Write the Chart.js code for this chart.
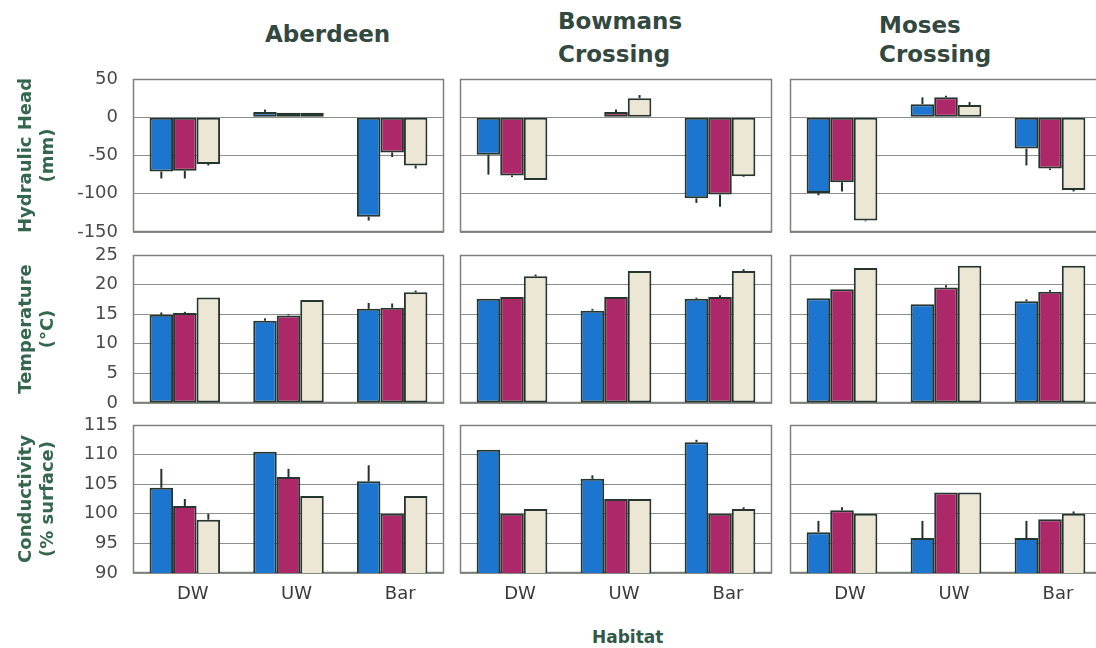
<!DOCTYPE html>
<html>
<head>
<meta charset="utf-8">
<title>Hydraulic head, temperature and conductivity by habitat</title>
<script src="https://cdn.jsdelivr.net/npm/chart.js@4.4.1/dist/chart.umd.min.js"></script>
<style>
  html, body { margin: 0; padding: 0; background: #fff; }
  body { width: 1096px; height: 648px; overflow: hidden; position: relative; font-family: "DejaVu Sans", sans-serif; }
  .panel { position: absolute; }
  .site { position: absolute; font-weight: bold; font-size: 23px; color: #33483f; white-space: nowrap; }
  .xtitle { position: absolute; font-weight: bold; font-size: 17px; line-height: 20px; color: #2f5a47; }
</style>
</head>
<body>
<div class="site" style="left:265px; top:20px; line-height:28px;">Aberdeen</div>
<div class="site" style="left:558px; top:5px; line-height:33px;">Bowmans<br>Crossing</div>
<div class="site" style="left:879px; top:11px; line-height:29px;">Moses<br>Crossing</div>
<div class="xtitle" style="left:592px; top:627px;">Habitat</div>

<script>
// Habitats on the x axis and the three sampling series
const habitats = ['DW', 'UW', 'Bar'];
const seriesNames = ['Series 1', 'Series 2', 'Series 3'];
const seriesColors = ['#1c76cf', '#ad2869', '#ece7d5'];

// y-axis tick values for each row
const headTicks = [-150, -100, -50, 0, 50];
const tempTicks = [0, 5, 10, 15, 20, 25];
const condTicks = [90, 95, 100, 105, 110, 115];

// Hydraulic head (mm): one inner array per series, values for DW / UW / Bar
const headAberdeen = [[-71, 7, -130], [-70, 6, -46], [-61, 6, -63]];
const headAberdeenErr = [[9, 3, 5], [10, 0, 6], [2, 0, 4]];
const headBowmans = [[-49, 0, -106], [-76, 7, -101], [-82, 25, -77]];
const headBowmansErr = [[26, 0, 6], [2, 3, 16], [0, 4, 1]];
const headMoses = [[-99, 17, -41], [-85, 26, -67], [-135, 16, -95]];
const headMosesErr = [[3, 9, 22], [12, 2, 2], [1, 4, 2]];

// Temperature (°C)
const tempAberdeen = [[14.9, 13.9, 15.9], [15.2, 14.8, 16.1], [17.8, 17.4, 18.7]];
const tempAberdeenErr = [[0.4, 0.4, 1.0], [0.2, 0.2, 0.7], [0, 0, 0.3]];
const tempBowmans = [[17.6, 15.6, 17.6], [17.9, 17.9, 17.9], [21.4, 22.3, 22.3]];
const tempBowmansErr = [[0, 0.3, 0.2], [0, 0, 0.3], [0.3, 0, 0.3]];
const tempMoses = [[17.7, 16.7, 17.2], [19.2, 19.5, 18.8], [22.8, 23.2, 23.2]];
const tempMosesErr = [[0, 0, 0.3], [0, 0.4, 0.3], [0, 0, 0]];

// Conductivity (% of surface water)
const condAberdeen = [[104.4, 110.5, 105.5], [101.3, 106.2, 100.0], [99.0, 103.0, 103.0]];
const condAberdeenErr = [[3.2, 0, 2.7], [1.2, 1.4, 0], [1.0, 0, 0]];
const condBowmans = [[110.8, 105.9, 112.1], [100.0, 102.5, 100.0], [100.8, 102.5, 100.8]];
const condBowmansErr = [[0, 0.6, 0.4], [0, 0, 0], [0, 0, 0.3]];
const condMoses = [[96.9, 95.9, 95.9], [100.6, 103.6, 99.1], [100.0, 103.6, 100.0]];
const condMosesErr = [[1.9, 2.9, 2.9], [0.5, 0, 0], [0, 0, 0.4]];

const rowDefs = [
  { ticks: headTicks, title: ['Hydraulic Head', '(mm)'],
    means: [headAberdeen, headBowmans, headMoses], errs: [headAberdeenErr, headBowmansErr, headMosesErr] },
  { ticks: tempTicks, title: ['Temperature', '(°C)'],
    means: [tempAberdeen, tempBowmans, tempMoses], errs: [tempAberdeenErr, tempBowmansErr, tempMosesErr] },
  { ticks: condTicks, title: ['Conductivity', '(% surface)'],
    means: [condAberdeen, condBowmans, condMoses], errs: [condAberdeenErr, condBowmansErr, condMosesErr] }
];

// Plot-area placement of the 3 x 3 grid of panels
const plotLeft = [133, 460, 790];
const plotWidth = [311, 312, 312];
const plotTop = [79, 255, 425];
const plotHeight = [153, 148, 148];
const yAxisWidth = 133;
const PAD = 32;   // room above/below each plot for the end tick labels

const FONT = 'DejaVu Sans';
Chart.defaults.font.family = FONT;

// Outline around each plot area
const framePlugin = {
  id: 'frame',
  beforeDatasetsDraw(chart) {
    const a = chart.chartArea, ctx = chart.ctx;
    ctx.save();
    ctx.strokeStyle = '#7c817b';
    ctx.lineWidth = 1.5;
    ctx.strokeRect(Math.round(a.left) + 0.5, Math.round(a.top) + 0.5,
                   Math.round(a.right - a.left) - 1, Math.round(a.bottom - a.top) - 1);
    ctx.restore();
  }
};

// One-sided error bars drawn outward from the end of each bar
const errorBarPlugin = {
  id: 'errorBars',
  afterDatasetsDraw(chart) {
    const ctx = chart.ctx, y = chart.scales.y;
    const base = y.getBaseValue();
    ctx.save();
    ctx.strokeStyle = '#26322d';
    ctx.lineWidth = 2;
    chart.data.datasets.forEach((ds, i) => {
      chart.getDatasetMeta(i).data.forEach((bar, j) => {
        const v = ds.data[j], e = ds.errorBars[j];
        if (!e) return;
        const dir = v >= base ? 1 : -1;
        ctx.beginPath();
        ctx.moveTo(bar.x, y.getPixelForValue(v));
        ctx.lineTo(bar.x, y.getPixelForValue(v + dir * e));
        ctx.stroke();
      });
    });
    ctx.restore();
  }
};

rowDefs.forEach((rd, row) => {
  for (let col = 0; col < 3; col++) {
    const first = col === 0;
    const bottom = row === 2;
    const padL = first ? 0 : 2;
    const yw = first ? yAxisWidth : 0;
    const xh = bottom ? 40 : 0;
    const padB = bottom ? 0 : PAD;

    const box = document.createElement('div');
    box.className = 'panel';
    box.style.left = (plotLeft[col] - yw - padL) + 'px';
    box.style.top = (plotTop[row] - PAD) + 'px';
    box.style.width = (padL + yw + plotWidth[col] + 4) + 'px';
    box.style.height = (PAD + plotHeight[row] + xh + padB) + 'px';
    const canvas = document.createElement('canvas');
    box.appendChild(canvas);
    document.body.appendChild(box);

    const ticks = rd.ticks;
    new Chart(canvas, {
      type: 'bar',
      data: {
        labels: habitats,
        datasets: seriesNames.map((name, s) => ({
          label: name,
          data: rd.means[col][s],
          errorBars: rd.errs[col][s],
          backgroundColor: seriesColors[s],
          borderColor: '#26352e',
          borderWidth: 2,
          borderSkipped: false,
          categoryPercentage: 0.68,
          barPercentage: 1.0
        }))
      },
      options: {
        responsive: true,
        maintainAspectRatio: false,
        animation: false,
        devicePixelRatio: 1,
        layout: { padding: { left: padL, right: 4, top: PAD, bottom: padB } },
        plugins: { legend: { display: false }, tooltip: { enabled: false }, title: { display: false } },
        scales: {
          x: {
            grid: { display: false },
            border: { display: false },
            ticks: { display: bottom, color: '#3a3a3a', font: { family: FONT, size: 18 }, padding: 3, labelOffset: 8 },
            afterFit: s => { s.height = xh; }
          },
          y: {
            min: ticks[0],
            max: ticks[ticks.length - 1],
            afterBuildTicks: s => { s.ticks = ticks.map(v => ({ value: v })); },
            grid: { color: '#8b908b', lineWidth: 1, drawTicks: false },
            border: { display: false },
            ticks: { display: first, color: '#4a4a4a', font: { family: FONT, size: 18 }, padding: 15 },
            title: {
              display: first,
              text: rd.title,
              color: '#346650',
              font: { family: FONT, size: 18, weight: 'bold' },
              padding: { top: 16, bottom: 0 }
            },
            afterFit: s => { s.width = yw; }
          }
        }
      },
      plugins: [framePlugin, errorBarPlugin]
    });
  }
});
</script>
</body>
</html>
